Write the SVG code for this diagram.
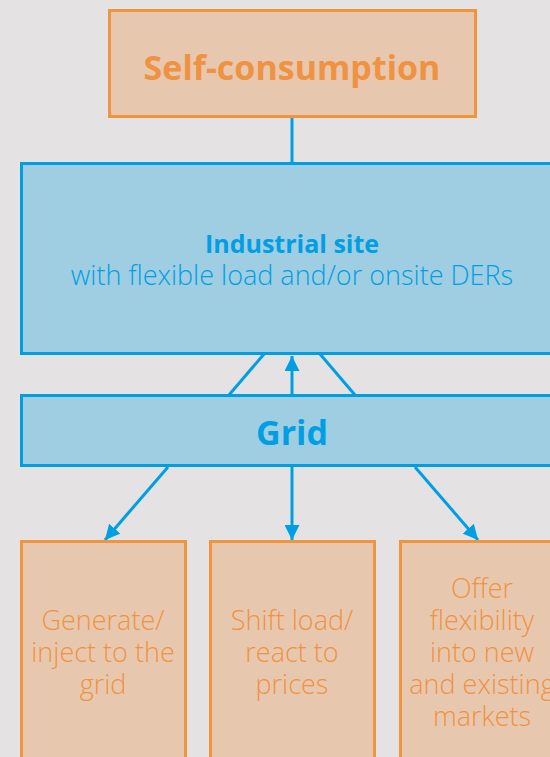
<svg xmlns="http://www.w3.org/2000/svg" width="550" height="757" viewBox="0 0 550 757">
<style>
.bg{fill:#E4E2E3}
.o{fill:#E7C8AE;stroke:#F0943E;stroke-width:3}
.b{fill:#9FCDE2;stroke:#009FE3;stroke-width:3}
.c{stroke:#009FE3;stroke-width:3;fill:none}
.t{font-family:"Open Sans","Noto Sans",sans-serif;text-anchor:middle}
.ot{fill:#EF9241;font-size:27px;font-weight:300}
</style>
<defs>
<marker id="ah" viewBox="0 0 10 10" refX="10" refY="5" markerWidth="5" markerHeight="5" orient="auto" markerUnits="strokeWidth">
<path d="M0,0 L10,5 L0,10 z" fill="#009FE3"/>
</marker>
</defs>
<rect class="bg" x="0" y="0" width="550" height="757"/>
<g id="connectors">
<line class="c" x1="292" y1="117" x2="292" y2="163"/>
<line class="c" x1="229" y1="395" x2="264" y2="354"/>
<line class="c" x1="320" y1="354" x2="355" y2="395"/>
<line class="c" x1="292" y1="395" x2="292" y2="356" marker-end="url(#ah)"/>
<line class="c" x1="168" y1="467" x2="105" y2="540" marker-end="url(#ah)"/>
<line class="c" x1="292" y1="467" x2="292" y2="540" marker-end="url(#ah)"/>
<line class="c" x1="415" y1="467" x2="478" y2="540" marker-end="url(#ah)"/>
</g>
<g id="self-consumption">
<rect class="o" x="109.5" y="10.5" width="366" height="106"/>
<text class="t" x="292" y="80" fill="#EF9241" font-size="34" font-weight="700">Self-consumption</text>
</g>
<g id="industrial-site">
<rect class="b" x="21.5" y="163.5" width="540" height="190"/>
<text class="t" x="292" y="253" fill="#009FE3" font-size="25" font-weight="700">Industrial site</text>
<text class="t" x="292" y="285" fill="#009FE3" font-size="27" font-weight="300">with flexible load and/or onsite DERs</text>
</g>
<g id="grid">
<rect class="b" x="21.5" y="395.5" width="540" height="70"/>
<text class="t" x="292" y="445" fill="#009FE3" font-size="34" font-weight="700">Grid</text>
</g>
<g id="generate">
<rect class="o" x="21.5" y="541.5" width="164" height="230"/>
<text class="t ot" x="103" y="630">Generate/</text>
<text class="t ot" x="103" y="662">inject to the</text>
<text class="t ot" x="103" y="694">grid</text>
</g>
<g id="shift-load">
<rect class="o" x="210.5" y="541.5" width="164" height="230"/>
<text class="t ot" x="292" y="630">Shift load/</text>
<text class="t ot" x="292" y="662">react to</text>
<text class="t ot" x="292" y="694">prices</text>
</g>
<g id="offer-flexibility">
<rect class="o" x="400.5" y="541.5" width="164" height="230"/>
<text class="t ot" x="482" y="598">Offer</text>
<text class="t ot" x="482" y="630">flexibility</text>
<text class="t ot" x="482" y="662">into new</text>
<text class="t ot" x="482" y="694">and existing</text>
<text class="t ot" x="482" y="726">markets</text>
</g>
</svg>
